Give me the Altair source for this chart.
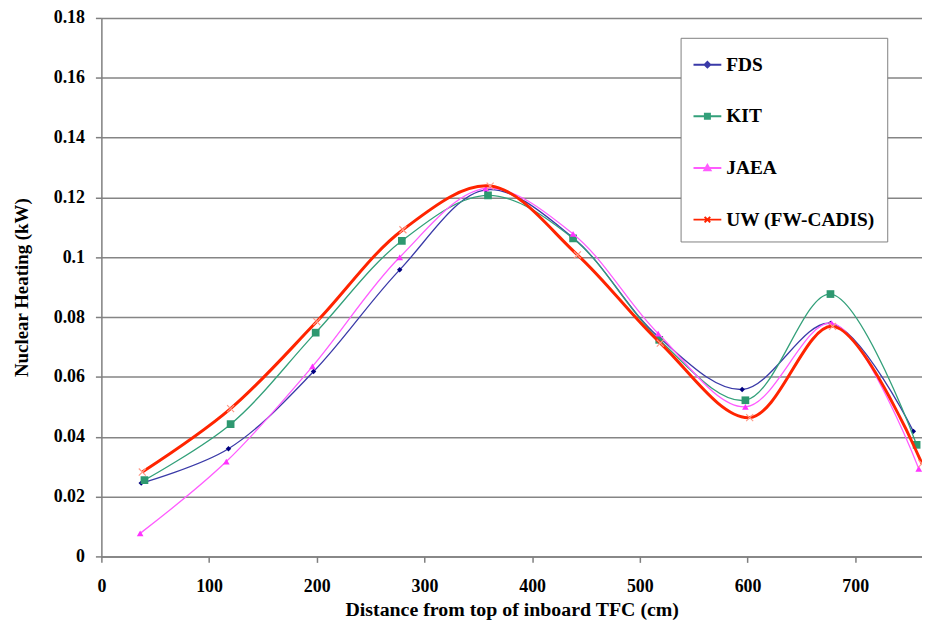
import altair as alt
import pandas as pd

series = ["FDS", "KIT", "JAEA", "UW (FW-CADIS)"]

x_fds = [37, 118, 197, 277, 357, 438, 517, 595, 677, 754]
y_fds = [0.0245, 0.0360, 0.0618, 0.0958, 0.1225, 0.1065, 0.0735, 0.0558, 0.0779, 0.0418]
x_kit = [40, 120, 199, 279, 359, 438, 518, 598, 677, 757]
y_kit = [0.0255, 0.0442, 0.0748, 0.1055, 0.1207, 0.1063, 0.0724, 0.0522, 0.0877, 0.0373]
x_jaea = [36, 116, 196, 277, 357, 438, 517, 598, 678, 759]
y_jaea = [0.0077, 0.0317, 0.0635, 0.1000, 0.1230, 0.1078, 0.0745, 0.0500, 0.0780, 0.0293]
x_uw = [38, 120, 200, 280, 361, 442, 519, 602, 679, 762]
y_uw = [0.0282, 0.0494, 0.0785, 0.1092, 0.1238, 0.1008, 0.0713, 0.0464, 0.0769, 0.0310]

x_ticks = [0, 100, 200, 300, 400, 500, 600, 700]
y_ticks = [0, 0.02, 0.04, 0.06, 0.08, 0.1, 0.12, 0.14, 0.16, 0.18]

line_colors = ["#3a3aa8", "#33a07a", "#ff5cff", "#ff2400"]
marker_colors = ["#000080", "#2e9870", "#ff33ff", "#ff9a88"]
line_widths = [1.3, 1.3, 1.3, 3]
marker_shapes = ["diamond", "square", "triangle-up", "M-1,-1L1,1M-1,1L1,-1"]
marker_sizes = [30, 60, 45, 50]
marker_filled = [True, True, True, False]

legend_paths = [
    "M-1,0H1M0,-0.2L0.2,0L0,0.2L-0.2,0Z",
    "M-1,0H1M-0.18,-0.18H0.18V0.18H-0.18Z",
    "M-1,0H1M0,-0.22L0.22,0.16H-0.22Z",
    "M-1,0H1M-0.2,-0.2L0.2,0.2M-0.2,0.2L0.2,-0.2",
]

rows = []
for name, xs, ys in zip(series, [x_fds, x_kit, x_jaea, x_uw], [y_fds, y_kit, y_jaea, y_uw]):
    for xv, yv in zip(xs, ys):
        rows.append({"series": name, "x": xv, "y": yv})
df = pd.DataFrame(rows)

FONT = "Liberation Serif"

xenc = alt.X(
    "x:Q",
    scale=alt.Scale(domain=[0, 762], nice=False, zero=False),
    axis=alt.Axis(
        values=x_ticks, title="Distance from top of inboard TFC (cm)", grid=False,
        domainColor="#7f7f7f", domainWidth=1.5, tickColor="#7f7f7f", tickWidth=1.5, tickSize=6,
        labelFont=FONT, labelFontSize=18, labelFontWeight="bold", labelColor="black",
        labelPadding=15, labelFlush=False,
        titleFont=FONT, titleFontSize=20, titleFontWeight="bold", titleColor="black", titlePadding=4,
    ),
)
yenc = alt.Y(
    "y:Q",
    scale=alt.Scale(domain=[0, 0.18], nice=False),
    axis=alt.Axis(
        values=y_ticks, format=".2~f", title="Nuclear Heating (kW)", grid=True,
        gridColor="#858585", gridWidth=1.5,
        domainColor="#7f7f7f", domainWidth=1.5, tickColor="#7f7f7f", tickWidth=1.5, tickSize=6,
        labelFont=FONT, labelFontSize=18, labelFontWeight="bold", labelColor="black",
        labelPadding=11, labelFlush=False,
        titleFont=FONT, titleFontSize=19, titleFontWeight="bold", titleColor="black", titlePadding=22,
    ),
)

layers = []
for i, name in enumerate(series):
    base = alt.Chart(df).transform_filter(alt.datum.series == name)
    layers.append(
        base.mark_line(interpolate="catmull-rom", clip=True, color=line_colors[i],
                       strokeWidth=line_widths[i]).encode(x=xenc, y=yenc)
    )
    layers.append(
        base.mark_point(shape=marker_shapes[i], filled=marker_filled[i], size=marker_sizes[i],
                        color=marker_colors[i], opacity=1, strokeWidth=1.2, clip=True).encode(x=xenc, y=yenc)
    )

leg_kwargs = dict(
    title=None, orient="none", legendX=583, legendY=20, padding=12,
    strokeColor="#808080", fillColor="white",
    labelFont=FONT, labelFontSize=19.5, labelFontWeight="bold", labelColor="black",
    symbolSize=784, symbolStrokeWidth=2, rowPadding=27, labelOffset=4,
)

legend_layer = alt.Chart(df).transform_filter("false").mark_point(
    filled=True, size=784, opacity=1, strokeWidth=2
).encode(
    x=xenc, y=yenc,
    color=alt.Color("series:N", scale=alt.Scale(domain=series, range=line_colors), legend=alt.Legend(**leg_kwargs)),
    stroke=alt.Stroke("series:N", scale=alt.Scale(domain=series, range=line_colors), legend=alt.Legend(**leg_kwargs)),
    shape=alt.Shape("series:N", scale=alt.Scale(domain=series, range=legend_paths), legend=alt.Legend(**leg_kwargs)),
)

chart = alt.layer(*layers, legend_layer).properties(
    width=826, height=542,
    autosize=alt.AutoSizeParams(type="none"),
    padding={"left": 94, "top": 8, "right": 0, "bottom": 62},
    background="white",
).configure_view(stroke=None)

chart.save("out.html", embed_options={"renderer": "svg", "actions": False})
